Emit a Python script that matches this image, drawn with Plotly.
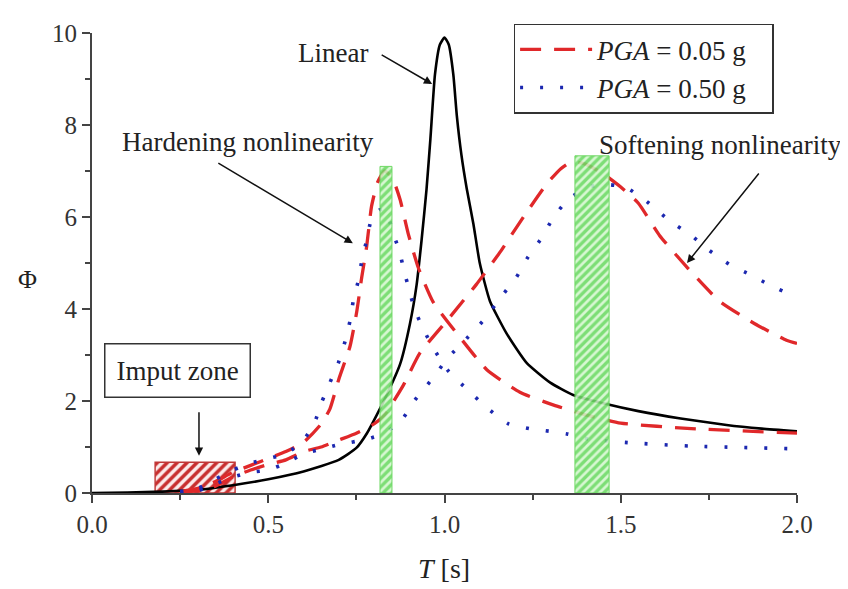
import plotly.graph_objects as go

# ---------------- data ----------------
T_lin = [0.0, 0.1, 0.2, 0.3, 0.4, 0.5, 0.6, 0.7, 0.75, 0.78, 0.808, 0.836, 0.874, 0.902,
         0.921, 0.935, 0.949, 0.96, 0.973, 0.987, 1.0, 1.012, 1.025, 1.035, 1.048, 1.063,
         1.082, 1.1, 1.129, 1.176, 1.233, 1.3, 1.365, 1.45, 1.55, 1.67, 1.8, 1.9, 2.0]
phi_lin = [0.0, 0.01, 0.03, 0.07, 0.17, 0.3, 0.47, 0.72, 0.98, 1.3, 1.7, 2.13, 2.8, 3.68,
           4.53, 5.5, 6.6, 7.7, 9.1, 9.75, 9.9, 9.75, 9.1, 8.2, 7.35, 6.62,
           5.85, 5.0, 4.17, 3.47, 2.83, 2.4, 2.13, 1.95, 1.78, 1.62, 1.48, 1.4, 1.34]

T_r_hard = [0.25, 0.3, 0.35, 0.4, 0.45, 0.5, 0.55, 0.6, 0.65, 0.675, 0.7, 0.732, 0.751,
            0.765, 0.779, 0.793, 0.81, 0.83, 0.852, 0.874, 0.897, 0.926, 0.968, 1.035,
            1.12, 1.214, 1.31, 1.4, 1.5, 1.7, 2.0]
phi_r_hard = [0.03, 0.1, 0.25, 0.45, 0.6, 0.75, 0.9, 1.1, 1.5, 1.83, 2.47, 3.19, 3.94,
              4.68, 5.35, 6.23, 6.75, 7.0, 6.85, 6.38, 5.64, 4.89, 4.15, 3.47,
              2.68, 2.19, 1.91, 1.7, 1.52, 1.4, 1.3]

T_r_soft = [0.25, 0.3, 0.35, 0.4, 0.45, 0.5, 0.55, 0.6, 0.65, 0.7, 0.75, 0.8, 0.83, 0.883,
            0.93, 1.016, 1.09, 1.157, 1.224, 1.29, 1.33, 1.36, 1.4, 1.45, 1.5, 1.55, 1.61,
            1.69, 1.78, 1.88, 1.97, 2.0]
phi_r_soft = [0.02, 0.05, 0.15, 0.35, 0.5, 0.62, 0.72, 0.9, 1.0, 1.15, 1.3, 1.5, 1.7, 2.34,
              3.04, 3.83, 4.53, 5.23, 6.0, 6.72, 7.05, 7.2, 7.15, 6.94, 6.65, 6.3, 5.6,
              4.89, 4.17, 3.68, 3.32, 3.25]

T_b_hard = [0.25, 0.3, 0.35, 0.4, 0.45, 0.5, 0.55, 0.6, 0.63, 0.652, 0.675, 0.699, 0.718,
            0.732, 0.741, 0.755, 0.765, 0.779, 0.793, 0.815, 0.834, 0.85, 0.871, 0.885,
            0.9, 0.916, 0.942, 0.973, 1.01, 1.067, 1.124, 1.18, 1.24, 1.3, 1.35, 1.41,
            1.53, 1.7, 2.0]
phi_b_hard = [0.03, 0.1, 0.3, 0.5, 0.65, 0.75, 0.85, 1.15, 1.5, 1.98, 2.4, 2.83, 3.3,
              3.74, 4.17, 4.6, 5.03, 5.49, 5.96, 6.15, 6.17, 5.74, 5.28, 4.85,
              4.4, 3.98, 3.53, 3.09, 2.66, 2.23, 1.83, 1.51, 1.4, 1.34, 1.28, 1.17,
              1.09, 1.02, 0.96]

T_b_soft = [0.25, 0.3, 0.35, 0.4, 0.45, 0.5, 0.55, 0.6, 0.65, 0.7, 0.78, 0.83, 0.88, 0.916,
            0.964, 1.01, 1.063, 1.115, 1.157, 1.203, 1.237, 1.277, 1.308, 1.35, 1.41, 1.47,
            1.52, 1.58, 1.64, 1.7, 1.75, 1.81, 1.87, 1.92, 1.98, 2.0]
phi_b_soft = [0.02, 0.05, 0.2, 0.35, 0.45, 0.5, 0.65, 0.85, 0.95, 1.05, 1.17, 1.3, 1.6, 2.02,
              2.47, 2.94, 3.36, 3.79, 4.23, 4.68, 5.13, 5.56, 5.98, 6.38, 6.66, 6.7,
              6.62, 6.3, 5.91, 5.6, 5.28, 4.96, 4.74, 4.53, 4.32, 4.28]

# highlighted bands (T start, T end, height)
band_T0 = [0.817, 1.37]
band_T1 = [0.851, 1.467]
band_top = [7.1, 7.33]

# input zone
zone_T0, zone_T1, zone_top = 0.179, 0.406, 0.67

x_ticks = [0.0, 0.5, 1.0, 1.5, 2.0]
y_ticks = [0, 2, 4, 6, 8, 10]

FONT = "Liberation Serif"
TXT = "#222222"
RED = "#E0282A"
BLUE = "#1C28B0"
NB = "&nbsp;&nbsp;&nbsp;"

fig = go.Figure()

# input zone (hatched red)
fig.add_trace(go.Scatter(
    x=[zone_T0, zone_T1, zone_T1, zone_T0, zone_T0],
    y=[0, 0, zone_top, zone_top, 0],
    mode="lines", fill="toself", showlegend=False, hoverinfo="skip",
    line=dict(color="#C03838", width=1.4),
    fillcolor="#FCEDED",
    fillpattern=dict(shape="/", fgcolor="#C82E2E", bgcolor="#FCEDED", fgopacity=1,
                     size=7, solidity=0.5),
))

sp = dict(shape="spline", smoothing=0.5)
# curves
fig.add_trace(go.Scatter(x=T_lin, y=phi_lin, mode="lines", showlegend=False,
                         line=dict(color="black", width=2.6, **sp), name="Linear"))
fig.add_trace(go.Scatter(x=T_r_hard, y=phi_r_hard, mode="lines",
                         name="<i>PGA</i> = 0.05 g" + NB,
                         legendgroup="a", showlegend=True,
                         line=dict(color=RED, width=3.3, dash="21px,13px", **sp)))
fig.add_trace(go.Scatter(x=T_r_soft, y=phi_r_soft, mode="lines",
                         name="<i>PGA</i> = 0.05 g" + NB,
                         legendgroup="a", showlegend=False,
                         line=dict(color=RED, width=3.3, dash="21px,13px", **sp)))
fig.add_trace(go.Scatter(x=T_b_hard, y=phi_b_hard, mode="lines",
                         name="<i>PGA</i> = 0.50 g" + NB,
                         legendgroup="b", showlegend=True,
                         line=dict(color=BLUE, width=3.6, dash="3px,17px", **sp)))
fig.add_trace(go.Scatter(x=T_b_soft, y=phi_b_soft, mode="lines",
                         name="<i>PGA</i> = 0.50 g" + NB,
                         legendgroup="b", showlegend=False,
                         line=dict(color=BLUE, width=3.6, dash="3px,17px", **sp)))

# green hatched bands (on top, semi-transparent)
for t0, t1, top in zip(band_T0, band_T1, band_top):
    fig.add_trace(go.Scatter(
        x=[t0, t1, t1, t0, t0], y=[0, 0, top, top, 0],
        mode="lines", fill="toself", showlegend=False, hoverinfo="skip", opacity=0.88,
        line=dict(color="#5CD450", width=1),
        fillcolor="#6CDA64",
        fillpattern=dict(shape="/", fgcolor="#D2F7CC", bgcolor="#6CDA64", fgopacity=1,
                         size=6, solidity=0.45),
    ))

ann = []
af = dict(family=FONT, size=27, color=TXT)
# text labels
ann.append(dict(x=0.684, y=9.57, text="Linear", showarrow=False, font=af))
ann.append(dict(x=0.443, y=7.62, text="Hardening nonlinearity", showarrow=False, font=af))
ann.append(dict(x=1.784, y=7.57, text="Softening nonlinearity", showarrow=False, font=af))
ann.append(dict(x=0.243, y=2.66, text="Imput zone", showarrow=False, font=af,
                bordercolor="#333333", borderwidth=1.5, borderpad=11))
# arrows
arr = dict(text="", showarrow=True, arrowhead=2, arrowsize=1.1, arrowwidth=1.5,
           arrowcolor="#111111", axref="pixel", ayref="pixel")
ann.append(dict(x=0.965, y=8.89, ax=-52, ay=-30, **arr))
ann.append(dict(x=0.74, y=5.43, ax=-136, ay=-81, **arr))
ann.append(dict(x=1.688, y=5.0, ax=73, ay=-91, **arr))
ann.append(dict(x=0.3035, y=0.81, ax=0, ay=-45, **arr))
# axis titles
ann.append(dict(xref="paper", yref="paper", x=-0.092, y=0.464, text="Φ",
                xanchor="center", yanchor="middle",
                showarrow=False, font=dict(family=FONT, size=26, color=TXT)))
ann.append(dict(xref="paper", yref="paper", x=0.499, y=-0.164, text="<i>T</i> [s]",
                xanchor="center", yanchor="middle",
                showarrow=False, font=dict(family=FONT, size=28, color=TXT)))

# body has an 8px margin in the page, compensate in the margins
fig.update_layout(
    width=848, height=589,
    margin=dict(l=84, r=59, t=15, b=104),
    paper_bgcolor="white", plot_bgcolor="white",
    font=dict(family=FONT, size=25, color=TXT),
    annotations=ann,
    legend=dict(x=0.598, y=1.02, xanchor="left", yanchor="top",
                bordercolor="#333333", borderwidth=1.5, bgcolor="white",
                font=dict(family=FONT, size=27, color=TXT), itemwidth=72,
                tracegroupgap=0),
)
fig.update_xaxes(range=[0, 2], tickvals=x_ticks, ticktext=[f"{v:.1f}" for v in x_ticks],
                 showgrid=False, zeroline=False, showline=True, linecolor="#444444",
                 linewidth=2, ticks="outside", ticklen=8, tickwidth=2, tickcolor="#444444",
                 minor=dict(dtick=0.25, ticks="outside", ticklen=5, tickwidth=2,
                            tickcolor="#444444"),
                 tickfont=dict(family=FONT, size=25, color="#333333"))
fig.update_yaxes(range=[0, 10], tickvals=y_ticks, showgrid=False, zeroline=False,
                 showline=True, linecolor="#444444", linewidth=2, ticks="outside",
                 ticklen=8, tickwidth=2, tickcolor="#444444",
                 minor=dict(dtick=1, ticks="outside", ticklen=5, tickwidth=2,
                            tickcolor="#444444"),
                 tickfont=dict(family=FONT, size=25, color="#333333"))

fig.write_html("out.html")
